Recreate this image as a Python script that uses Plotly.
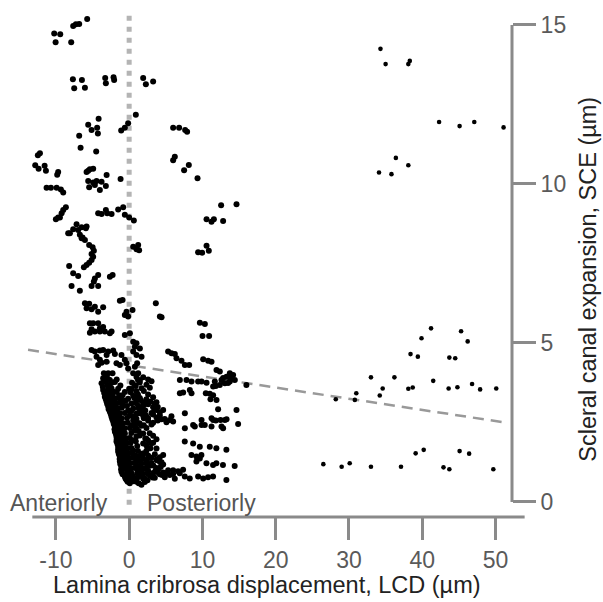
import plotly.graph_objects as go

# ---------------- data (LCD in µm, SCE in µm) ----------------
upper_lcd = [-5.73, -7.64, -7.27, -6.82, -10.23, -9.41, -10.04, -7.91,
             -7.68, -6.45, -7.5, -6.04, -3.27, -2.13, -3.18, -2.05,
             1.91, 2.28, 3.27, 0.91, -0.14, -0.59, -1.09,
             -4.17, -5.59, -5.13, -4.37, -4.27, -6.82, -6.63, -4.5,
             -12.18, -12.46, -12.82, -12.36, -11.54, -11.36, -9.69, -9.82,
             -11.27, -10.68, -9.9, -9.32, -9.0,
             -5.81, -5.36, -4.91, -5.59, -3.08,
             -5.59, -4.91, -4.45, -3.77, -5.46, -4.68, -4.0, -3.18, -1.17,
             6.0, 6.82, 7.64, 7.91, 6.23, 6.0, 8.14, 7.5, 9.33]
upper_sce = [15.19, 14.97, 15.02, 15.03, 14.73, 14.71, 14.46, 14.46,
             13.29, 13.27, 13.01, 13.03, 13.33, 13.36, 13.17, 13.27,
             13.33, 13.14, 13.22, 12.18, 11.91, 11.77, 11.68,
             12.05, 11.86, 11.70, 11.77, 11.59, 11.52, 11.14, 11.02,
             10.97, 10.9, 10.59, 10.48, 10.57, 10.42, 10.38, 10.29,
             9.88, 9.88, 9.88, 9.83, 9.73,
             10.38, 10.46, 10.48, 10.42, 10.28,
             10.09, 10.05, 10.09, 10.07, 9.9, 9.97, 9.81, 9.94, 10.16,
             11.77, 11.77, 11.70, 11.64, 10.86, 10.75, 10.6, 10.43, 10.18]

band_lcd = [-4.23, -3.77, -3.18, -3.0, -2.4, -1.5, -0.82, -0.59, 0.0, 0.64,
            -8.64, -9.0, -9.22, -9.69, -10.0, -9.45,
            -7.18, -7.64, -8.09, -6.96, -6.49, -5.91, -6.73, -6.36, -6.04, -6.49, -5.81, -8.32,
            -5.46, -4.99, -4.82, -5.13, -4.91, -5.13, -5.46, -5.81, -6.18,
            -8.19, -7.64, -6.96, -7.86, -6.73,
            -4.23, -4.68, -4.82, -2.63, -2.26, -5.13, -4.23,
            0.55, 1.23, 1.0, 1.36,
            -6.04, -5.46, -5.81, -5.13, -4.68, -4.23, -3.55,
            -1.27, -0.9, -0.36, -0.59, 0.46, -0.14,
            3.64, 4.19, 4.42,
            -5.36, -4.91, -4.23, -4.0, -5.36, -4.68, -4.0, -3.32, -2.63, -2.4, -5.13, -3.55,
            0.1, -0.59, 0.55, 1.0, 1.46, 0.78,
            -5.13, -4.68, -4.0, -3.55, -2.86, -2.18, -3.08, -1.95,
            0.55, 1.0, 1.69,
            -4.45, -4.0, -4.23, -3.77, -3.09, -1.73, -1.27, -0.36, -0.14, -0.59, -1.05, 0.78, 1.09,
            -3.45, -2.86, -2.27, 0.55, 1.23]
band_sce = [9.08, 9.06, 9.18, 9.08, 9.06, 9.2, 9.27, 9.03, 8.95, 8.85,
            9.27, 9.18, 9.08, 8.95, 8.89, 8.95,
            8.73, 8.58, 8.45, 8.55, 8.64, 8.61, 8.40, 8.32, 8.24, 8.29, 8.66, 8.45,
            8.08, 8.01, 7.9, 7.8, 7.71, 7.61, 7.52, 7.45, 7.38,
            7.42, 7.19, 7.11, 6.79, 6.64,
            7.14, 7.03, 6.93, 7.08, 7.14, 6.79, 6.79,
            8.03, 8.08, 7.95, 7.92,
            6.25, 6.23, 6.09, 6.06, 6.14, 5.98, 6.12,
            6.33, 6.35, 5.98, 5.88, 6.04, 5.83,
            6.25, 5.83, 5.81,
            5.62, 5.62, 5.62, 5.46, 5.32, 5.36, 5.36, 5.36, 5.31, 5.36, 5.43, 5.5,
            5.31, 5.25, 5.04, 4.99, 4.83, 4.88,
            4.78, 4.73, 4.76, 4.78, 4.73, 4.76, 4.62, 4.65,
            4.73, 4.62, 4.57,
            4.57, 4.47, 4.31, 4.38, 4.41, 4.36, 4.31, 4.36, 4.2, 4.47, 4.62, 4.25, 4.36,
            4.05, 4.05, 4.05, 4.05, 4.05]

# dense cluster near LCD = 0, read row by row: (SCE, [LCD values])
dense_rows = [
    (3.89, [-3.55, -3.09, -2.64, 1.0, 1.45, 1.91, 2.59]),
    (3.81, [-3.4, -2.9, -2.3, -1.7, 0.4, 1.2]),
    (3.73, [-3.77, -3.18, -2.64, -1.95, 0.77, 1.45, 2.36, 3.05]),
    (3.62, [-3.6, -3.0, -2.4, -1.2, 0.0, 0.9, 1.7]),
    (3.52, [-3.55, -2.86, -2.18, -1.5, -0.59, 0.32, 1.0, 2.82]),
    (3.42, [-3.4, -2.8, -2.3, -1.7, -0.9, 0.2, 1.2, 2.0]),
    (3.31, [-3.32, -2.64, -1.95, -1.27, -0.14, 0.55, 1.45, 2.59, 3.27]),
    (3.24, [-3.2, -2.7, -2.1, -1.5, -0.5, 0.7, 1.6]),
    (3.16, [-3.09, -2.41, -1.73, -1.05, 0.32, 1.0, 1.91, 2.36, 3.73]),
    (3.08, [-3.0, -2.5, -1.9, -1.3, -0.3, 0.9, 2.0, 2.9]),
    (3.00, [-2.86, -2.18, -1.5, -0.82, 0.55, 1.23, 1.68, 2.59, 3.27]),
    (2.92, [-2.8, -2.3, -1.7, -1.0, 0.3, 1.3, 2.2, 3.9]),
    (2.84, [-2.64, -1.95, -1.27, -0.14, 1.0, 1.68, 3.05, 3.5, 4.18, 4.64]),
    (2.76, [-2.5, -2.0, -1.4, -0.6, 0.5, 1.4, 2.3]),
    (2.68, [-2.41, -1.73, -1.05, 0.09, 1.0, 1.91, 2.59, 3.27, 3.73, 4.18, 4.86, 5.77]),
    (2.60, [-2.3, -1.8, -1.2, -0.3, 0.8, 2.0, 3.9]),
    (2.53, [-2.18, -1.5, -0.82, 0.55, 1.45, 2.59, 3.27, 4.41, 5.09]),
    (2.45, [-2.1, -1.6, -1.0, -0.2, 0.7, 1.3, 2.0]),
    (2.37, [-1.95, -1.27, -0.59, 0.32, 1.0, 1.68, 2.36, 3.05]),
    (2.29, [-2.0, -1.5, -0.9, 0.1, 1.3]),
    (2.21, [-1.95, -1.27, -0.59, 0.77, 1.91]),
    (2.13, [-1.8, -1.4, -0.8, 0.3, 1.0, 2.8]),
    (2.05, [-1.73, -1.05, -0.36, 1.45, 2.36, 3.27]),
    (1.97, [-1.7, -1.3, -0.7, 0.1, 0.9, 2.2]),
    (1.90, [-1.73, -1.05, -0.36, 0.55, 1.91, 2.59, 3.27, 3.73]),
    (1.82, [-1.6, -1.2, -0.6, 0.2, 1.1, 3.0]),
    (1.74, [-1.5, -0.82, -0.14, 2.36, 3.73]),
    (1.66, [-1.5, -1.1, -0.5, 0.3, 1.2, 2.9]),
    (1.58, [-1.5, -0.82, -0.14, 0.55, 1.68, 2.36]),
    (1.50, [-1.4, -1.0, -0.3, 0.4, 1.3, 2.0]),
    (1.43, [-1.27, -0.59, 0.09, 0.77, 1.91, 2.59, 3.05, 3.5, 4.18, 4.64]),
    (1.35, [-1.3, -0.9, -0.2, 0.5, 1.4, 2.7, 3.8]),
    (1.27, [-1.27, -0.59, 0.09, 1.0, 1.68, 2.36, 3.05, 3.73, 4.41]),
    (1.19, [-1.2, -0.8, -0.1, 0.7, 1.5, 2.3, 3.3, 4.2]),
    (1.11, [-1.05, -0.36, 0.32, 1.0, 1.91, 2.82, 3.73, 4.64]),
    (1.03, [-1.1, -0.7, 0.0, 0.8, 1.6, 2.3, 3.6, 4.3]),
    (0.95, [-1.05, -0.36, 0.32, 1.23, 1.91, 2.59, 3.27, 3.95, 4.64, 5.32, 6.0, 6.68, 7.36]),
    (0.87, [-0.9, -0.2, 0.5, 1.1, 1.8, 2.5, 3.1, 3.8, 4.5, 5.2]),
    (0.80, [-0.59, 0.09, 0.77, 1.45, 2.14, 2.82, 3.5, 4.18, 4.86, 5.55, 6.23]),
    (0.74, [-0.5, 0.1, 0.7, 1.2, 2.5, 3.2]),
    (0.69, [-0.36, 0.32, 1.0, 1.91]),
    (0.64, [-0.2, 0.5, 1.3]),
    (0.59, [0.09, 0.55, 1.68, 2.14]),
]
# small vertical offsets read for points that sit between the rows
dense_row_offsets = [0.00, 0.06, -0.05, 0.04, -0.06, 0.03, -0.04, 0.07, -0.02, 0.05,
                     -0.07, 0.02, 0.06, -0.03, 0.04, -0.05]

mid_lcd = [5.32, 5.78, 6.23, 6.46, 7.14, 7.6, 8.19, 10.1, 10.78, 11.24,
           11.92, 12.37, 13.74, 14.19, 13.29, 12.6, 11.69, 11.46, 12.37, 13.06, 13.74,
           10.56, 9.88, 6.92, 7.83, 8.51, 9.41, 6.92, 7.37, 8.28, 8.51, 16.0,
           13.83, 14.42, 12.82, 13.5, 11.83,
           10.46, 11.01, 11.46, 11.1, 11.92, 12.14, 14.65, 3.5, 3.73, 6.0, 5.55, 7.6,
           12.55, 14.65, 10.56, 11.24, 11.56, 12.82, 9.41, 9.96, 10.56, 10.87,
           9.65, 10.33, 10.01, 10.91,
           11.24, 11.46, 11.83, 12.47, 13.06, 13.29, 9.88, 8.96, 8.73, 7.6, 9.88,
           11.24, 12.6, 12.82, 14.87, 10.32,
           7.59, 8.73, 9.64, 11.0, 11.9, 13.27,
           8.5, 9.18, 9.64, 9.86, 9.18, 10.55, 11.45, 11.9, 12.8, 14.4,
           6.0, 6.9, 7.59, 8.27, 9.41, 10.1, 10.77, 11.45, 13.27]
mid_sce = [4.73, 4.68, 4.65, 4.52, 4.44, 4.31, 4.31, 4.49, 4.44, 4.41,
           4.15, 4.10, 4.05, 3.99, 3.94, 3.84, 3.79, 3.63, 3.68, 3.73, 3.79,
           3.75, 3.79, 3.84, 3.84, 3.79, 3.79, 3.42, 3.44, 3.52, 3.42, 3.68,
           3.9, 3.84, 3.9, 3.74, 3.65,
           3.42, 3.4, 3.36, 3.23, 3.21, 2.92, 2.89, 3.1, 2.89, 2.53, 2.58, 2.79,
           9.33, 9.36, 8.89, 8.81, 8.89, 8.84, 7.85, 7.84, 8.06, 7.9,
           5.64, 5.6, 5.22, 5.22,
           2.63, 2.58, 2.56, 2.58, 2.58, 2.6, 2.58, 2.37, 2.42, 2.32, 2.42,
           2.37, 2.37, 2.32, 2.45, 2.42,
           1.9, 1.84, 1.74, 1.74, 1.69, 1.64,
           1.48, 1.43, 1.37, 1.48, 1.27, 1.22, 1.16, 1.22, 1.16, 1.13,
           1.0, 0.9, 0.8, 0.74, 0.8, 0.74, 0.78, 0.8, 0.69]

far_lcd = [34.3, 35.0, 38.1, 38.3, 42.3, 45.1, 47.1, 51.1, 36.4, 34.1, 35.8, 38.1,
           41.2, 39.9, 45.3, 46.2, 38.4, 39.4, 43.7, 44.5,
           33.0, 36.2, 34.6, 34.2, 38.1, 38.7, 41.5, 43.6, 44.8, 46.8, 47.9, 50.1,
           31.0, 30.8, 28.2,
           26.5, 29.0, 30.1, 33.0, 37.1, 39.1, 40.2, 42.9, 43.7, 45.1, 46.4, 49.7]
far_sce = [14.25, 13.77, 13.77, 13.87, 11.95, 11.82, 11.95, 11.78, 10.82, 10.36, 10.31, 10.59,
           5.46, 5.15, 5.37, 5.05, 4.65, 4.57, 4.54, 4.52,
           3.92, 3.92, 3.57, 3.35, 3.56, 3.60, 3.81, 3.57, 3.61, 3.71, 3.54, 3.57,
           3.42, 3.21, 3.23,
           1.19, 1.11, 1.22, 1.11, 1.11, 1.53, 1.64, 1.09, 1.03, 1.60, 1.52, 1.03]

# regression line SCE = intercept + slope * LCD, and its LCD extent
fit_intercept = 4.30
fit_slope = -0.0351
fit_lcd_range = [-13.8, 51.7]

# vertical reference at LCD = 0
zero_line_sce = [-0.09, 15.38]

x_ticks = [-10, 0, 10, 20, 30, 40, 50]
x_tick_labels = ["-10", "0", "10", "20", "30", "40", "50"]
y_ticks = [0, 5, 10, 15]

# ---------------- build ----------------
dense_lcd, dense_sce = [], []
for sce, row in dense_rows:
    for i, v in enumerate(row):
        dense_lcd.append(v)
        dense_sce.append(sce + dense_row_offsets[i % len(dense_row_offsets)])

near_lcd = upper_lcd + band_lcd + dense_lcd + mid_lcd
near_sce = upper_sce + band_sce + dense_sce + mid_sce

AX = "#8a8a8a"
FONT = "Liberation Sans, Arial, sans-serif"

fig = go.Figure()

fig.add_trace(go.Scatter(
    x=[0, 0], y=zero_line_sce, mode="lines",
    line=dict(color="#b4b4b4", width=5, dash="5px,6px"),
    hoverinfo="skip", showlegend=False))

fit_sce = [fit_intercept + fit_slope * v for v in fit_lcd_range]
fig.add_trace(go.Scatter(
    x=fit_lcd_range, y=fit_sce, mode="lines",
    line=dict(color="#999999", width=2.5, dash="11px,7px"),
    hoverinfo="skip", showlegend=False, cliponaxis=False))

fig.add_trace(go.Scatter(
    x=near_lcd, y=near_sce, mode="markers",
    marker=dict(color="black", size=6, line=dict(width=0)),
    showlegend=False))
fig.add_trace(go.Scatter(
    x=far_lcd, y=far_sce, mode="markers",
    marker=dict(color="black", size=4.6, line=dict(width=0)),
    showlegend=False))

fig.update_layout(
    width=603, height=602,
    margin=dict(l=26, r=91, t=6, b=85),
    paper_bgcolor="white", plot_bgcolor="white",
    font=dict(family=FONT, size=23, color="#5a5a5a"),
    xaxis=dict(range=[-14.08, 52.25], tickvals=x_ticks, ticktext=x_tick_labels,
               ticks="outside", ticklen=22, tickwidth=3, tickcolor=AX, showline=False,
               showgrid=False, zeroline=False,
               tickfont=dict(size=23, color="#5a5a5a")),
    yaxis=dict(range=[-0.472, 15.597], tickvals=y_ticks, side="right",
               ticks="outside", ticklen=23, tickwidth=3, tickcolor=AX,
               showline=False, showgrid=False, zeroline=False,
               tickfont=dict(size=23, color="#5a5a5a")),
    shapes=[
        dict(type="line", xref="paper", yref="paper", x0=0.013, x1=1.026,
             y0=0, y1=0, line=dict(color=AX, width=3)),
        dict(type="line", xref="paper", yref="y", x0=1, x1=1,
             y0=0, y1=15, line=dict(color=AX, width=3)),
    ],
    annotations=[
        dict(text="Lamina cribrosa displacement, LCD (µm)", xref="paper", yref="paper",
             x=0.4956, y=-0.134, xanchor="center", yanchor="middle", showarrow=False,
             font=dict(size=23.5, color="#222222")),
        dict(text="Scleral canal expansion, SCE (µm)", xref="paper", yref="paper",
             x=1.157, y=0.465, xanchor="center", yanchor="middle", showarrow=False,
             textangle=-90, font=dict(size=23.5, color="#222222")),
        dict(text="Anteriorly", xref="x", yref="y", x=-2.63, y=-0.03,
             xanchor="right", yanchor="middle", showarrow=False,
             font=dict(size=23, color="#555555")),
        dict(text="Posteriorly", xref="x", yref="y", x=2.14, y=-0.03,
             xanchor="left", yanchor="middle", showarrow=False,
             font=dict(size=23, color="#555555")),
    ],
)

fig.write_html("out.html", config={"displayModeBar": False},
               post_script="document.body.style.margin='0';")
